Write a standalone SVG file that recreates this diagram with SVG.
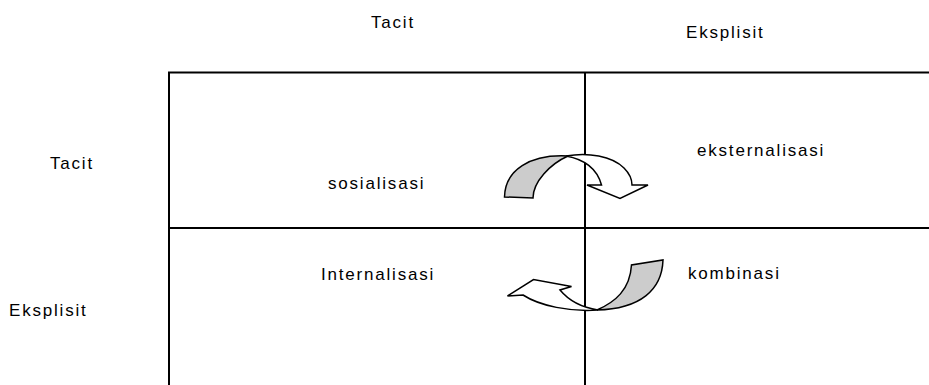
<svg xmlns="http://www.w3.org/2000/svg" width="929" height="385" viewBox="0 0 929 385">
<style>
.t{font-family:"Liberation Sans",Arial,sans-serif;font-size:17px;letter-spacing:1.8px;fill:#000}
.ln{stroke:#000;stroke-width:2;fill:none}
.ar{stroke:#000;stroke-width:1.5;stroke-linejoin:miter}
.g{fill:#cccccc}
.w{fill:#ffffff}
</style>
<rect width="929" height="385" fill="#fff"/>
<g id="grid">
<path class="ln" d="M169,385 V72.5 H929 M585,72.5 V385 M169,228 H929"/>
</g>
<g id="labels">
<text class="t" x="371" y="28">Tacit</text>
<text class="t" x="686" y="38">Eksplisit</text>
<text class="t" x="50" y="169">Tacit</text>
<text class="t" x="9" y="316">Eksplisit</text>
</g>
<g id="node-sosialisasi"><text class="t" x="328" y="189">sosialisasi</text></g>
<g id="node-eksternalisasi"><text class="t" x="697" y="156">eksternalisasi</text></g>
<g id="node-internalisasi"><text class="t" x="321" y="280">Internalisasi</text></g>
<g id="node-kombinasi"><text class="t" x="688" y="279">kombinasi</text></g>
<g id="connectors">
<path class="ar w" d="M566,156 C588,152 612,156 624,168 C630,174 632,180 632,185 L648,185 L620,198.5 L587,185 L601.5,185 C598,172 588,160 566,156 Z"/>
<path class="ar g" d="M504.5,197 C505,170 530,154 568,156 C550,164 533,182 533,198 Z"/>
<path class="ar w" d="M598,310 C570,312 540,306 523,295 L507.5,296 L533.5,279.5 L571.5,286.5 L560,290 C570,302 585,308 598,310 Z"/>
<path class="ar g" d="M663,260 C662,290 640,309 597,310 C615,302 630,290 631.5,265 Z"/>
</g>
</svg>
